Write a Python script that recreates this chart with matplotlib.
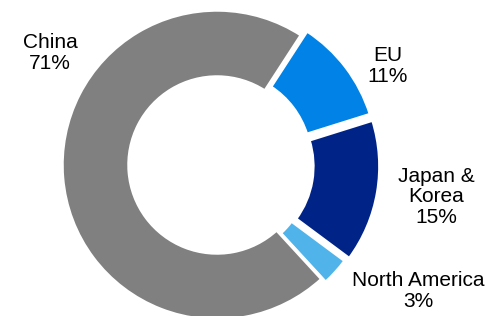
import matplotlib.pyplot as plt

regions = ['EU', 'Japan &\nKorea', 'North America', 'China']
shares = [11, 15, 3, 71]
colors = ['#0082E6', '#002387', '#50B4EB', '#808080']
explode = [7, 8, 5, 0]
label_pos = [(388, 66), (436, 197), (418, 291), (50, 53)]

plt.rcParams['font.family'] = ['Liberation Sans', 'DejaVu Sans']

fig = plt.figure(figsize=(4.86, 3.16), dpi=100)
ax = fig.add_axes([0, 0, 1, 1])

cx, cy, r = 217, 316 - 165, 155
wedges, _ = ax.pie(shares, colors=colors, startangle=57, counterclock=False,
                   center=(cx, cy), radius=r, explode=explode,
                   wedgeprops=dict(width=r - 88, edgecolor='white', linewidth=2.5))

for name, val, (x, y) in zip(regions, shares, label_pos):
    ax.text(x, 316 - y, f'{name}\n{val}%', ha='center', va='center',
            fontsize=15, linespacing=1.12)

ax.set_xlim(0, 486)
ax.set_ylim(0, 316)
ax.set_aspect('equal')
ax.axis('off')
fig.savefig('out.png', dpi=100)
